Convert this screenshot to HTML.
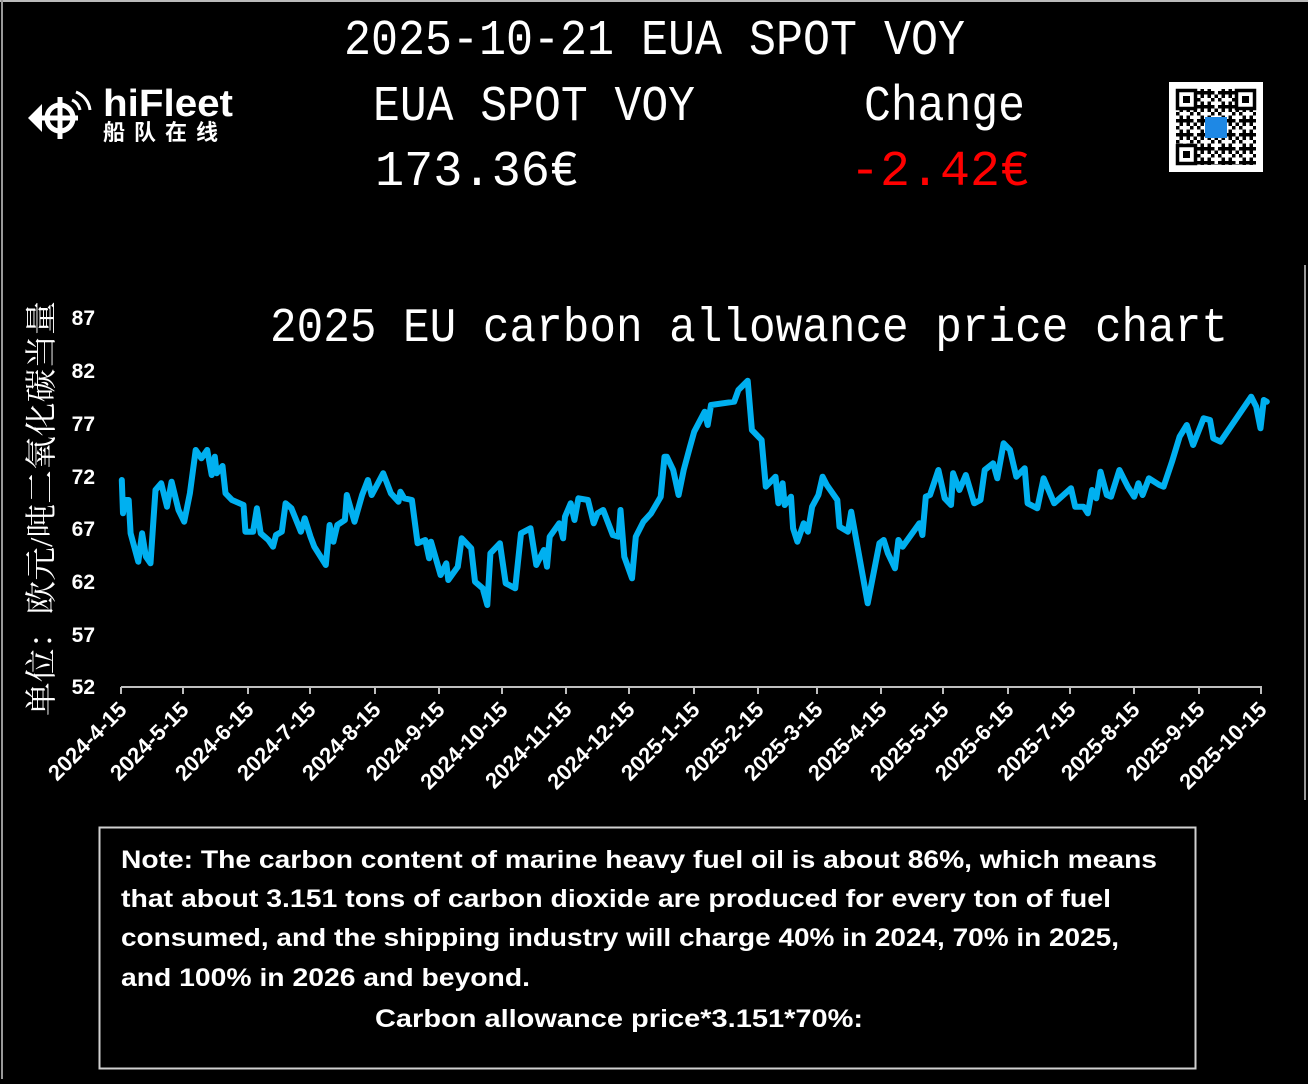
<!DOCTYPE html>
<html><head><meta charset="utf-8"><style>
html,body{margin:0;padding:0;background:#000;}
body{width:1308px;height:1079px;overflow:hidden;position:relative;}
</style></head><body>
<svg width="1308" height="1079" viewBox="0 0 1308 1079" xmlns="http://www.w3.org/2000/svg">
<defs>
<pattern id="qa" width="7" height="7" patternUnits="userSpaceOnUse"><rect width="7" height="7" fill="#fff"/><rect x="0" y="0" width="3.5" height="3.5" fill="#000"/><rect x="3.5" y="3.5" width="3.5" height="3.5" fill="#000"/></pattern>
<pattern id="qb" width="10.5" height="14" patternUnits="userSpaceOnUse"><rect x="0" y="7" width="7" height="3.5" fill="#000"/><rect x="7" y="0" width="3.5" height="7" fill="#fff"/></pattern>
</defs>
<rect x="0" y="0" width="1308" height="1079" fill="#000"/>
<line x1="0" y1="1" x2="1308" y2="1" stroke="#bbb" stroke-width="2"/>
<line x1="2" y1="0" x2="2" y2="1079" stroke="#999" stroke-width="2"/>
<line x1="1305" y1="265" x2="1305" y2="800" stroke="#999" stroke-width="2"/>

<!-- logo -->
<g fill="#fff" stroke="#fff">
<circle cx="60" cy="118" r="13" fill="none" stroke-width="5"/>
<line x1="60" y1="97" x2="60" y2="139" stroke-width="5"/>
<line x1="33" y1="118" x2="78" y2="118" stroke-width="5"/>
<polygon points="28,118 42,104 42,132" stroke="none"/>
<path d="M72 100 A14 14 0 0 1 80 110" fill="none" stroke-width="3"/>
<path d="M76 92 A22 22 0 0 1 90 110" fill="none" stroke-width="3"/>
</g>
<text x="103" y="116" font-family="Liberation Sans, sans-serif" font-weight="bold" font-size="38" fill="#fff" textLength="130" lengthAdjust="spacingAndGlyphs">hiFleet</text>
<text x="103" y="140" font-family="Liberation Sans, 'Noto Sans CJK SC', sans-serif" font-weight="bold" font-size="22" fill="#fff" letter-spacing="9">船队在线</text>

<!-- header text -->
<g font-family="Liberation Mono, monospace" fill="#fff" font-size="50">
<text x="344" y="54" textLength="621" lengthAdjust="spacingAndGlyphs">2025-10-21 EUA SPOT VOY</text>
<text x="373" y="120" textLength="322" lengthAdjust="spacingAndGlyphs">EUA SPOT VOY</text>
<text x="864" y="120" textLength="161" lengthAdjust="spacingAndGlyphs">Change</text>
<text x="375" y="185" textLength="204" lengthAdjust="spacingAndGlyphs">173.36€</text>
<text x="850" y="185" fill="#ff0000" textLength="180" lengthAdjust="spacingAndGlyphs">-2.42€</text>
</g>

<!-- QR -->
<rect x="1169" y="82" width="94" height="90" fill="#fff"/>
<rect x="1176" y="89" width="80" height="76" fill="url(#qa)"/>
<rect x="1176" y="89" width="80" height="76" fill="url(#qb)"/>
<g fill="#fff" stroke="#000" stroke-width="3.5">
<rect x="1177.5" y="90.5" width="18" height="18"/>
<rect x="1236.5" y="90.5" width="18" height="18"/>
<rect x="1177.5" y="145.5" width="18" height="18"/>
</g>
<rect x="1183" y="96" width="7" height="7" fill="#000"/>
<rect x="1242" y="96" width="7" height="7" fill="#000"/>
<rect x="1183" y="151" width="7" height="7" fill="#000"/>
<rect x="1205" y="117" width="22" height="21" fill="#1e88e5"/>

<!-- chart title -->
<text x="270" y="341" font-family="Liberation Mono, monospace" font-size="48" fill="#fff" textLength="958" lengthAdjust="spacingAndGlyphs">2025 EU carbon allowance price chart</text>

<!-- y label -->
<text transform="translate(52,716) rotate(-90)" font-family="Liberation Serif, 'Noto Serif CJK SC', serif" font-size="32" fill="#fff" textLength="415" lengthAdjust="spacingAndGlyphs">单位：欧元/吨二氧化碳当量</text>

<!-- y ticks -->
<g font-family="Liberation Sans, sans-serif" font-weight="bold" font-size="21" fill="#fff" text-anchor="end">
<text x="95" y="325">87</text>
<text x="95" y="378">82</text>
<text x="95" y="431">77</text>
<text x="95" y="484">72</text>
<text x="95" y="536">67</text>
<text x="95" y="589">62</text>
<text x="95" y="642">57</text>
<text x="95" y="694">52</text>
</g>

<!-- x axis -->
<line x1="121" y1="687" x2="1262" y2="687" stroke="#bfbfbf" stroke-width="2"/>
<g stroke="#bfbfbf" stroke-width="2">
<line x1="121" y1="687" x2="121" y2="694"/><line x1="183" y1="687" x2="183" y2="694"/><line x1="248" y1="687" x2="248" y2="694"/><line x1="310" y1="687" x2="310" y2="694"/><line x1="375" y1="687" x2="375" y2="694"/><line x1="439" y1="687" x2="439" y2="694"/><line x1="502" y1="687" x2="502" y2="694"/><line x1="566" y1="687" x2="566" y2="694"/><line x1="629" y1="687" x2="629" y2="694"/><line x1="694" y1="687" x2="694" y2="694"/><line x1="758" y1="687" x2="758" y2="694"/><line x1="817" y1="687" x2="817" y2="694"/><line x1="881" y1="687" x2="881" y2="694"/><line x1="943" y1="687" x2="943" y2="694"/><line x1="1008" y1="687" x2="1008" y2="694"/><line x1="1070" y1="687" x2="1070" y2="694"/><line x1="1134" y1="687" x2="1134" y2="694"/><line x1="1199" y1="687" x2="1199" y2="694"/><line x1="1261" y1="687" x2="1261" y2="694"/>
</g>
<g font-family="Liberation Sans, sans-serif" font-weight="bold" font-size="22" fill="#fff" text-anchor="end">
<text transform="translate(128,711) rotate(-45)">2024-4-15</text>
<text transform="translate(190,711) rotate(-45)">2024-5-15</text>
<text transform="translate(255,711) rotate(-45)">2024-6-15</text>
<text transform="translate(317,711) rotate(-45)">2024-7-15</text>
<text transform="translate(382,711) rotate(-45)">2024-8-15</text>
<text transform="translate(446,711) rotate(-45)">2024-9-15</text>
<text transform="translate(509,711) rotate(-45)">2024-10-15</text>
<text transform="translate(573,711) rotate(-45)">2024-11-15</text>
<text transform="translate(636,711) rotate(-45)">2024-12-15</text>
<text transform="translate(701,711) rotate(-45)">2025-1-15</text>
<text transform="translate(765,711) rotate(-45)">2025-2-15</text>
<text transform="translate(824,711) rotate(-45)">2025-3-15</text>
<text transform="translate(888,711) rotate(-45)">2025-4-15</text>
<text transform="translate(950,711) rotate(-45)">2025-5-15</text>
<text transform="translate(1015,711) rotate(-45)">2025-6-15</text>
<text transform="translate(1077,711) rotate(-45)">2025-7-15</text>
<text transform="translate(1141,711) rotate(-45)">2025-8-15</text>
<text transform="translate(1206,711) rotate(-45)">2025-9-15</text>
<text transform="translate(1268,711) rotate(-45)">2025-10-15</text>
</g>

<!-- series -->
<polyline fill="none" stroke="#00b0f0" stroke-width="6" stroke-linejoin="round" stroke-linecap="round" points="
121.8,480 123,513.3 125.3,500 128.7,500 130.6,533.3 138.3,561.7 142.1,533.3 145.9,556.7 150.5,563.3 155.5,490 161.2,483.3 167,506.7 171.6,481.7 178.5,510 184.2,521.7 189.9,493.3 195.7,450 201.4,458.3 207.2,450 211.7,475 214.8,456.7 216.7,473.3 222.5,466 225.5,493.3 232,500 243.5,505 245.4,531.7 253.1,531.7 256.9,508.3 260.7,533.3 268.4,540 273,546.7 276,535 281.8,531.7 285.6,503.3 291.4,508.3 300.9,531.7 304.7,518.3 310.5,536.7 314.3,546.7 325.8,565 329.6,525 333.4,541.7 337.3,525 344.9,520 346.8,495 354.5,521.7 362.1,495 367.9,480 371.7,495 383.2,473.3 390.9,493.3 398.5,501.7 400.4,491.7 404.2,498.3 411.9,500 417.6,543.3 425.3,540 429.1,558.3 431,541.7 440.6,575 446.3,563.3 448.3,580 457.8,566.7 461.7,538.3 471.2,548.3 475,581.7 482.7,588.3 487.3,605 490.4,553.3 499.9,543.3 505.7,583.3 515.2,588.3 521,533.3 530.5,528.3 536.3,565 543.9,550 547,566.7 549.7,536.7 559.2,523.3 563.1,538.3 565,516.7 570.7,503.3 574.5,520 578.4,498.3 587.9,500 593.7,523.3 597.5,513.3 603.2,510 612.8,535 618.6,536.7 620.5,510 624.3,556.7 632,578.3 635.8,536.7 643.4,521.7 651.1,513.3 660.7,496.7 664.5,456.7 666.8,456.7 673.2,470 678.6,495 683.7,470 690,446.7 694.2,431.7 704.7,411.7 707.7,425 711,405 734.2,401.7 738.4,390 747.7,380.7 751.9,430 761.6,440 765.8,486.7 775.5,476.7 778.4,503.3 782.6,483.3 784.7,505 791,496.7 793.1,528.3 797.4,541.7 803.7,523.3 807.9,531.7 812.1,506.7 818.4,495 822.6,476.7 826.8,485 837.3,500 839.5,526.7 847.9,531.7 851.2,511.7 867.7,603.3 879.4,543.3 883.7,540 887.9,553.3 895,568.3 898.4,540 902.6,546.7 919.4,523.3 922.4,535 925.8,496.7 930,495 938.4,470 944.7,498.3 951,505 953.1,473.3 959.4,490 965.8,475 974.2,503.3 980.5,500 984.7,470 993.1,463.3 997.3,478.3 1003.6,443.3 1010,450 1016.3,476.7 1024.7,468.3 1027.6,503.3 1037.3,508.3 1043.6,478.3 1054.2,503.3 1071,488.3 1075.2,506.7 1083.6,506.7 1087.8,513.3 1092,490 1096.3,498.3 1100.5,471.7 1106.8,495 1111,496.7 1119.4,470 1127.8,486.7 1134.2,496.7 1138.4,483.3 1142.6,495 1148.9,478.3 1159.4,485 1163.6,486.7 1172,461.7 1179.6,436.7 1186.8,425 1193.1,445 1203.6,418.3 1210,420 1213.3,438.3 1220.5,441.7 1251.2,396.7 1256.2,406.7 1260.5,428.3 1263.8,400 1266.8,401.7"/>

<!-- note box -->
<rect x="99.5" y="827.5" width="1096" height="241" fill="none" stroke="#d0d0d0" stroke-width="2"/>
<g font-family="Liberation Sans, sans-serif" font-weight="bold" font-size="25" fill="#fff">
<text x="121" y="868" textLength="1036" lengthAdjust="spacingAndGlyphs">Note: The carbon content of marine heavy fuel oil is about 86%, which means</text>
<text x="121" y="907" textLength="990" lengthAdjust="spacingAndGlyphs">that about 3.151 tons of carbon dioxide are produced for every ton of fuel</text>
<text x="121" y="946" textLength="998" lengthAdjust="spacingAndGlyphs">consumed, and the shipping industry will charge 40% in 2024, 70% in 2025,</text>
<text x="121" y="986" textLength="409" lengthAdjust="spacingAndGlyphs">and 100% in 2026 and beyond.</text>
<text x="375" y="1027" textLength="488" lengthAdjust="spacingAndGlyphs">Carbon allowance price*3.151*70%:</text>
</g>
</svg>
</body></html>
